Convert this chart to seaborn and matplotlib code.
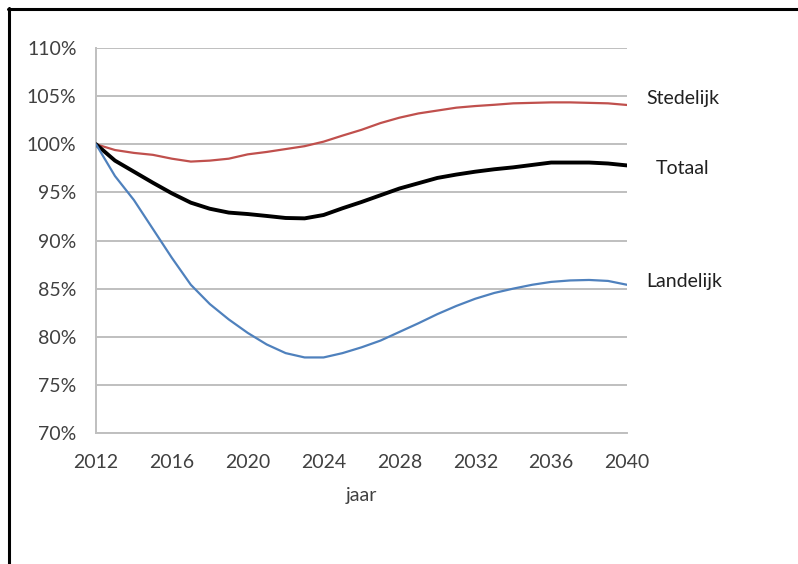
import numpy as np
import pandas as pd
import seaborn as sns
import matplotlib
matplotlib.use("Agg")
import matplotlib.pyplot as plt
from matplotlib.lines import Line2D
from matplotlib.ticker import FuncFormatter, MultipleLocator

years = list(range(2012, 2041))
stedelijk = [100.0, 99.4, 99.1, 98.9, 98.5, 98.2, 98.3, 98.5, 98.95, 99.2,
             99.5, 99.8, 100.27, 100.9, 101.5, 102.2, 102.76, 103.2, 103.5, 103.8,
             103.97, 104.1, 104.25, 104.3, 104.35, 104.35, 104.3, 104.25, 104.08]
totaal = [100.0, 98.3, 97.15, 96.0, 94.9, 93.93, 93.3, 92.9, 92.75, 92.55,
          92.34, 92.3, 92.65, 93.35, 94.0, 94.7, 95.4, 95.95, 96.5, 96.85,
          97.15, 97.4, 97.6, 97.85, 98.1, 98.1, 98.1, 98.0, 97.8]
landelijk = [100.0, 96.7, 94.2, 91.2, 88.2, 85.4, 83.4, 81.8, 80.4, 79.2,
             78.3, 77.85, 77.85, 78.3, 78.9, 79.6, 80.5, 81.4, 82.35, 83.2,
             83.95, 84.55, 85.0, 85.4, 85.7, 85.85, 85.9, 85.8, 85.4]
series_names = ["Stedelijk", "Totaal", "Landelijk"]
colors = {"Stedelijk": "#C0504D", "Totaal": "#000000", "Landelijk": "#4F81BD"}
widths = {"Stedelijk": 1.6, "Totaal": 2.8, "Landelijk": 1.6}

df = pd.concat([
    pd.DataFrame({"jaar": years, "waarde": vals, "reeks": name})
    for name, vals in zip(series_names, [stedelijk, totaal, landelijk])
])

sns.set_theme(style="white")
plt.rcParams["font.family"] = ["Lato", "DejaVu Sans"]

fig = plt.figure(figsize=(7.98, 5.64), dpi=100)
ax = fig.add_axes([96 / 798, 1 - 433 / 564, 531 / 798, 385 / 564])

for name in series_names:
    sub = df[df["reeks"] == name]
    sns.lineplot(data=sub, x="jaar", y="waarde", ax=ax, color=colors[name],
                 linewidth=widths[name], legend=False, zorder=3)

ax.set_xlim(2012, 2040)
ax.set_ylim(70, 110)
ax.xaxis.set_major_locator(MultipleLocator(4))
ax.yaxis.set_major_locator(MultipleLocator(5))
ax.yaxis.set_major_formatter(FuncFormatter(lambda v, p: f"{v:.0f}%"))
ax.grid(axis="y", color="#BFBFBF", linewidth=1.4)
ax.set_axisbelow(True)
for side in ["top", "right"]:
    ax.spines[side].set_visible(False)
for side in ["left", "bottom"]:
    ax.spines[side].set_color("#BFBFBF")
    ax.spines[side].set_linewidth(1.4)
ax.tick_params(axis="both", which="major", direction="out", length=6,
               width=1.2, color="#BFBFBF", labelsize=14, labelcolor="#404040")
ax.tick_params(axis="y", pad=8)
ax.tick_params(axis="x", pad=9)
ax.set_xlabel("jaar", fontsize=14, color="#404040", labelpad=12)
ax.set_ylabel("")

# series labels to the right of the plot
label_y = {"Stedelijk": 104.8, "Totaal": 97.5, "Landelijk": 85.7}
label_x = {"Stedelijk": 2041.0, "Totaal": 2041.5, "Landelijk": 2041.0}
for name in series_names:
    ax.text(label_x[name], label_y[name], name, fontsize=14, color="#202020",
            va="center", ha="left", clip_on=False)

# outer frame lines (left and top)
fig.add_artist(Line2D([9 / 798, 9 / 798], [0, 1 - 8 / 564], color="black",
                      linewidth=2.2, transform=fig.transFigure))
fig.add_artist(Line2D([8 / 798, 1], [1 - 9 / 564, 1 - 9 / 564], color="black",
                      linewidth=2.2, transform=fig.transFigure))

fig.savefig("out.png", dpi=100, facecolor="white")
